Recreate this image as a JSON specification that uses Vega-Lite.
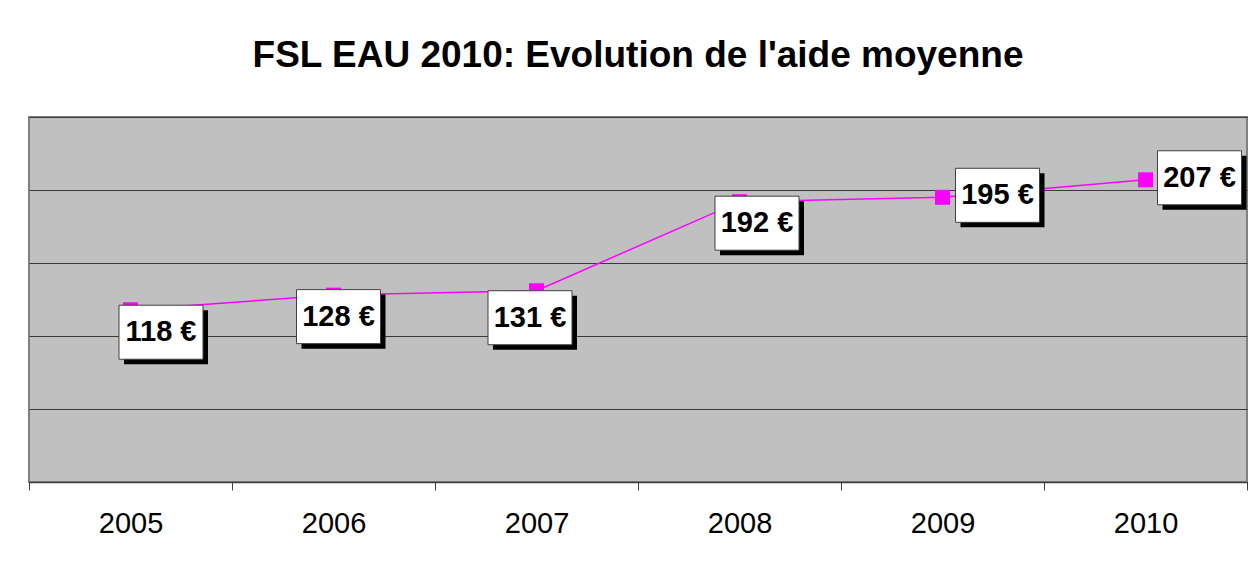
{
  "$schema": "https://vega.github.io/schema/vega-lite/v6.json",
  "width": 1218,
  "height": 365,
  "autosize": "none",
  "padding": {"left": 29, "top": 117, "right": 11, "bottom": 83},
  "background": "white",
  "title": {
    "text": "FSL EAU 2010: Evolution de l'aide moyenne",
    "font": "Liberation Sans",
    "fontSize": 37,
    "fontWeight": "bold",
    "color": "black",
    "anchor": "middle",
    "frame": "group",
    "baseline": "alphabetic",
    "offset": 13
  },
  "config": {
    "view": {"fill": "#C0C0C0", "stroke": "#808080", "strokeWidth": 2},
    "font": "Liberation Sans"
  },
  "data": {
    "values": [
      {"year": "2005", "value": 118},
      {"year": "2006", "value": 128},
      {"year": "2007", "value": 131},
      {"year": "2008", "value": 192},
      {"year": "2009", "value": 195},
      {"year": "2010", "value": 207}
    ]
  },
  "transform": [{"calculate": "datum.value + ' €'", "as": "label"}],
  "encoding": {
    "x": {
      "field": "year",
      "type": "nominal",
      "sort": null,
      "scale": {"type": "band", "paddingInner": 0, "paddingOuter": 0},
      "axis": {
        "title": null,
        "labelAngle": 0,
        "labelFont": "Liberation Sans",
        "labelFontSize": 29,
        "labelColor": "black",
        "labelPadding": 19,
        "tickBand": "extent",
        "tickSize": 8,
        "tickColor": "#404040",
        "domainColor": "#404040",
        "domainWidth": 1.5,
        "grid": false
      }
    },
    "y": {
      "field": "value",
      "type": "quantitative",
      "scale": {"domain": [0, 250], "nice": false},
      "axis": {
        "title": null,
        "labels": false,
        "ticks": false,
        "domain": false,
        "values": [0, 50, 100, 150, 200, 250],
        "grid": true,
        "gridColor": "#3a3a3a",
        "gridWidth": 1.2,
        "gridOpacity": 1
      }
    }
  },
  "layer": [
    {"mark": {"type": "line", "color": "#FF00FF", "strokeWidth": 1.5}},
    {"mark": {"type": "point", "shape": "square", "size": 225, "filled": true, "color": "#FF00FF", "opacity": 1}},
    {
      "transform": [{"filter": "datum.year == '2005'"}],
      "layer": [
        {"mark": {"type": "point", "shape": "M-1,-0.643H1V0.643H-1Z", "size": 7056, "filled": true, "fill": "black", "strokeWidth": 0, "opacity": 1, "xOffset": 35.5, "yOffset": 27.5}},
        {"mark": {"type": "point", "shape": "M-1,-0.643H1V0.643H-1Z", "size": 7056, "filled": true, "fill": "white", "stroke": "#404040", "strokeWidth": 1, "opacity": 1, "xOffset": 30.5, "yOffset": 22.5}},
        {"mark": {"type": "text", "font": "Liberation Sans", "fontSize": 29, "fontWeight": "bold", "color": "black", "align": "center", "baseline": "middle", "xOffset": 30.5, "yOffset": 22.5}, "encoding": {"text": {"field": "label"}}}
      ]
    },
    {
      "transform": [{"filter": "datum.year == '2006'"}],
      "layer": [
        {"mark": {"type": "point", "shape": "M-1,-0.643H1V0.643H-1Z", "size": 7056, "filled": true, "fill": "black", "strokeWidth": 0, "opacity": 1, "xOffset": 10, "yOffset": 26.5}},
        {"mark": {"type": "point", "shape": "M-1,-0.643H1V0.643H-1Z", "size": 7056, "filled": true, "fill": "white", "stroke": "#404040", "strokeWidth": 1, "opacity": 1, "xOffset": 5, "yOffset": 21.5}},
        {"mark": {"type": "text", "font": "Liberation Sans", "fontSize": 29, "fontWeight": "bold", "color": "black", "align": "center", "baseline": "middle", "xOffset": 5, "yOffset": 21.5}, "encoding": {"text": {"field": "label"}}}
      ]
    },
    {
      "transform": [{"filter": "datum.year == '2007'"}],
      "layer": [
        {"mark": {"type": "point", "shape": "M-1,-0.643H1V0.643H-1Z", "size": 7056, "filled": true, "fill": "black", "strokeWidth": 0, "opacity": 1, "xOffset": -1.5, "yOffset": 32}},
        {"mark": {"type": "point", "shape": "M-1,-0.643H1V0.643H-1Z", "size": 7056, "filled": true, "fill": "white", "stroke": "#404040", "strokeWidth": 1, "opacity": 1, "xOffset": -6.5, "yOffset": 27}},
        {"mark": {"type": "text", "font": "Liberation Sans", "fontSize": 29, "fontWeight": "bold", "color": "black", "align": "center", "baseline": "middle", "xOffset": -6.5, "yOffset": 27}, "encoding": {"text": {"field": "label"}}}
      ]
    },
    {
      "transform": [{"filter": "datum.year == '2008'"}],
      "layer": [
        {"mark": {"type": "point", "shape": "M-1,-0.643H1V0.643H-1Z", "size": 7056, "filled": true, "fill": "black", "strokeWidth": 0, "opacity": 1, "xOffset": 22.5, "yOffset": 26.5}},
        {"mark": {"type": "point", "shape": "M-1,-0.643H1V0.643H-1Z", "size": 7056, "filled": true, "fill": "white", "stroke": "#404040", "strokeWidth": 1, "opacity": 1, "xOffset": 17.5, "yOffset": 21.5}},
        {"mark": {"type": "text", "font": "Liberation Sans", "fontSize": 29, "fontWeight": "bold", "color": "black", "align": "center", "baseline": "middle", "xOffset": 17.5, "yOffset": 21.5}, "encoding": {"text": {"field": "label"}}}
      ]
    },
    {
      "transform": [{"filter": "datum.year == '2009'"}],
      "layer": [
        {"mark": {"type": "point", "shape": "M-1,-0.643H1V0.643H-1Z", "size": 7056, "filled": true, "fill": "black", "strokeWidth": 0, "opacity": 1, "xOffset": 60, "yOffset": 3}},
        {"mark": {"type": "point", "shape": "M-1,-0.643H1V0.643H-1Z", "size": 7056, "filled": true, "fill": "white", "stroke": "#404040", "strokeWidth": 1, "opacity": 1, "xOffset": 55, "yOffset": -2}},
        {"mark": {"type": "text", "font": "Liberation Sans", "fontSize": 29, "fontWeight": "bold", "color": "black", "align": "center", "baseline": "middle", "xOffset": 55, "yOffset": -2}, "encoding": {"text": {"field": "label"}}}
      ]
    },
    {
      "transform": [{"filter": "datum.year == '2010'"}],
      "layer": [
        {"mark": {"type": "point", "shape": "M-1,-0.643H1V0.643H-1Z", "size": 7056, "filled": true, "fill": "black", "strokeWidth": 0, "opacity": 1, "xOffset": 59, "yOffset": 3}},
        {"mark": {"type": "point", "shape": "M-1,-0.643H1V0.643H-1Z", "size": 7056, "filled": true, "fill": "white", "stroke": "#404040", "strokeWidth": 1, "opacity": 1, "xOffset": 54, "yOffset": -2}},
        {"mark": {"type": "text", "font": "Liberation Sans", "fontSize": 29, "fontWeight": "bold", "color": "black", "align": "center", "baseline": "middle", "xOffset": 54, "yOffset": -2}, "encoding": {"text": {"field": "label"}}}
      ]
    }
  ]
}
